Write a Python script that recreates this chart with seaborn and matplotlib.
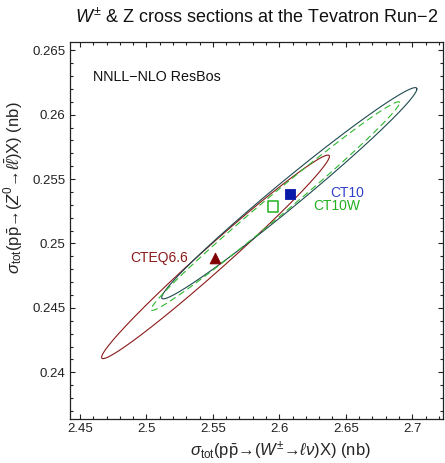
import numpy as np
import pandas as pd
import matplotlib
matplotlib.use("Agg")
import matplotlib.pyplot as plt
from matplotlib.ticker import MultipleLocator, FixedLocator
import seaborn as sns

sns.set_theme(style="white")
plt.rcParams['font.family'] = ['Liberation Sans', 'DejaVu Sans']
plt.rcParams['mathtext.fontset'] = 'custom'
plt.rcParams['mathtext.rm'] = 'Liberation Sans'
plt.rcParams['mathtext.it'] = 'Liberation Sans:italic'
plt.rcParams['mathtext.bf'] = 'Liberation Sans:bold'

# ---- data ----
pdf_sets = ["CTEQ6.6", "CT10", "CT10W"]
# central predictions (markers)
sigma_W = [2.5516, 2.608, 2.5954]
sigma_Z = [0.24885, 0.25387, 0.25286]
# error ellipses: center, half-ranges and correlation
ell_cx = [2.552, 2.6075, 2.597]
ell_cy = [0.24896, 0.2539, 0.2529]
ell_sx = [0.0857, 0.0960, 0.0935]
ell_sy = [0.0079, 0.0082, 0.0081]
ell_rho = [0.987, 0.987, 0.991]

x_ticks = [2.45, 2.5, 2.55, 2.6, 2.65, 2.7]
y_ticks = [0.24, 0.245, 0.25, 0.255, 0.26, 0.265]

colors_line = ["#8b1a1a", "#1f4a4f", "#2db82d"]
colors_marker = ["#7f0000", "#0a1aa8", "#22b022"]
colors_text = ["#8b1a1a", "#3040c8", "#22b022"]

fig = plt.figure(figsize=(4.45, 4.63), dpi=100)
ax = fig.add_axes([0.1566, 0.0944, 0.9966 - 0.1566, 0.9093 - 0.0944])

t = np.linspace(0, 2 * np.pi, 500)
rows = []
for name, cx, cy, sx, sy, r in zip(pdf_sets, ell_cx, ell_cy, ell_sx, ell_sy, ell_rho):
    xs = cx + sx * np.cos(t)
    ys = cy + sy * (r * np.cos(t) + np.sqrt(1 - r * r) * np.sin(t))
    rows.append(pd.DataFrame({"x": xs, "y": ys, "set": name}))
ell = pd.concat(rows, ignore_index=True)

for k, name in enumerate(pdf_sets):
    d = ell[ell["set"] == name]
    sns.lineplot(data=d, x="x", y="y", sort=False, estimator=None, ax=ax,
                 color=colors_line[k], lw=0.8,
                 linestyle=(0, (6, 3.5)) if name == "CT10W" else "-")

pts = pd.DataFrame({"x": sigma_W, "y": sigma_Z, "set": pdf_sets})
sns.scatterplot(data=pts[pts.set == "CTEQ6.6"], x="x", y="y", marker="^", s=60,
                color=colors_marker[0], edgecolor=colors_marker[0], ax=ax, zorder=5)
sns.scatterplot(data=pts[pts.set == "CT10"], x="x", y="y", marker="s", s=60,
                color=colors_marker[1], edgecolor=colors_marker[1], ax=ax, zorder=5)
sns.scatterplot(data=pts[pts.set == "CT10W"], x="x", y="y", marker="s", s=55,
                facecolor="none", edgecolor=colors_marker[2], linewidth=1.1, ax=ax, zorder=5)

ax.text(2.5315, 0.24891, "CTEQ6.6", color=colors_text[0], fontsize=10, ha="right", va="center")
ax.text(2.6381, 0.25388, "CT10", color=colors_text[1], fontsize=10, ha="left", va="center")
ax.text(2.6253, 0.25291, "CT10W", color=colors_text[2], fontsize=10, ha="left", va="center")
ax.text(0.063, 0.906, "NNLL\u2212NLO ResBos", transform=ax.transAxes, fontsize=10.3,
        ha="left", va="center", color="#111111")

ax.set_xlim(2.4423, 2.7235)
ax.set_ylim(0.23635, 0.26564)
ax.xaxis.set_major_locator(FixedLocator(x_ticks))
ax.yaxis.set_major_locator(FixedLocator(y_ticks))
ax.set_xticklabels([f"{v:g}" for v in x_ticks])
ax.set_yticklabels([f"{v:g}" for v in y_ticks])
ax.xaxis.set_minor_locator(MultipleLocator(0.01))
ax.yaxis.set_minor_locator(MultipleLocator(0.001))
ax.tick_params(which="both", direction="in", top=True, right=True, bottom=True, left=True,
               labelsize=9.5, colors="#222222", width=0.8)
ax.tick_params(which="major", length=3.5, pad=3)
ax.tick_params(which="minor", length=2)
for s in ax.spines.values():
    s.set_color("#222222")
    s.set_linewidth(0.9)

ax.set_xlabel(r"$\sigma_{\rm tot}$(p$\bar{\rm p}$" + "\u2192(" + r"$W^{\pm}$" + "\u2192" +
              r"$\ell\nu$" + ")X) (nb)", fontsize=12, va="baseline")
ax.xaxis.set_label_coords(0.5626, -0.0985)
ax.set_ylabel(r"$\sigma_{\rm tot}$(p$\bar{\rm p}$" + "\u2192(" + r"$Z^{0}$" + "\u2192" +
              r"$\ell\bar{\ell}$" + ")X) (nb)", fontsize=12, va="center")
ax.yaxis.set_label_coords(-0.150, 0.615)

fig.text((69.7 + 443.5) / 2 / 445, 1 - 17.5 / 463,
         r"$W^{\pm}$ & Z cross sections at the Tevatron Run" + "\u22122",
         fontsize=13, ha="center", va="center", color="#111111")

fig.savefig("out.png", dpi=100)
